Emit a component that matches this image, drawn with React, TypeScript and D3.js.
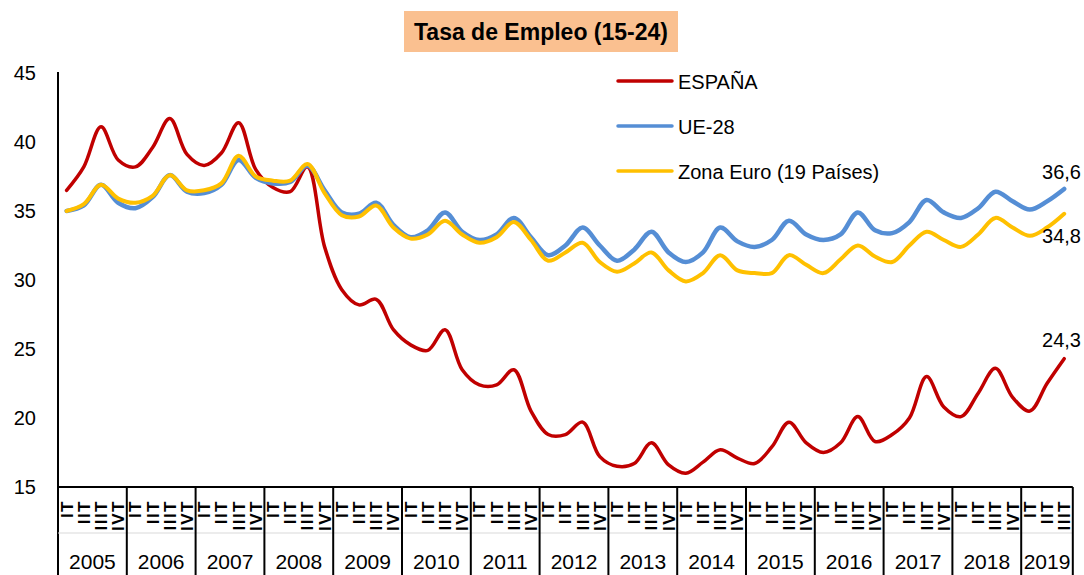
import React from "react";
import * as d3 from "d3";

const years = ["2005","2006","2007","2008","2009","2010","2011","2012","2013","2014","2015","2016","2017","2018","2019"];
const quarterLabels = ["IT", "IIT", "IIIT", "IVT"];
const yTicks = [15, 20, 25, 30, 35, 40, 45];

const espana = [
  36.5, 38.2, 41.1, 38.7,
  38.2, 39.6, 41.7, 39.1,
  38.3, 39.2, 41.4, 38.0,
  36.7, 36.4, 38.2, 32.4,
  29.3, 28.2, 28.6, 26.4,
  25.3, 24.9, 26.4, 23.5,
  22.4, 22.4, 23.5, 20.5,
  18.8, 18.8, 19.7, 17.2,
  16.5, 16.7, 18.2, 16.6,
  16.0, 16.8, 17.7, 17.1,
  16.7, 17.9, 19.7, 18.2,
  17.5, 18.2, 20.1, 18.3,
  18.8, 20.0, 23.0, 20.8,
  20.1, 21.8, 23.6, 21.5,
  20.5, 22.5, 24.3,
];
const ue28 = [
  35.0, 35.4, 36.9, 35.6,
  35.2, 36.0, 37.6, 36.4,
  36.3, 36.9, 38.7, 37.4,
  37.0, 37.1, 38.3, 36.5,
  34.9, 34.8, 35.6, 34.0,
  33.1, 33.6, 34.9, 33.5,
  32.9, 33.3, 34.5, 33.1,
  31.8, 32.5, 33.8, 32.5,
  31.4, 32.2, 33.5, 32.0,
  31.3, 32.0, 33.8, 32.8,
  32.4, 32.9, 34.3, 33.3,
  32.9, 33.3, 34.9, 33.6,
  33.4, 34.2, 35.8, 34.9,
  34.5, 35.2, 36.4, 35.7,
  35.1, 35.7, 36.6,
];
const zonaEuro = [
  35.0, 35.5, 36.9, 35.9,
  35.6, 36.1, 37.6, 36.5,
  36.5, 37.0, 39.0, 37.5,
  37.2, 37.2, 38.4, 36.3,
  34.7, 34.6, 35.4, 33.8,
  33.0, 33.3, 34.3, 33.3,
  32.7, 33.1, 34.2, 32.9,
  31.4, 32.0, 32.7, 31.3,
  30.6, 31.2, 32.0, 30.7,
  29.9, 30.5, 31.8, 30.7,
  30.5, 30.5, 31.8, 31.1,
  30.5, 31.5, 32.5, 31.7,
  31.3, 32.5, 33.5, 32.9,
  32.4, 33.3, 34.5, 33.8,
  33.2, 33.8, 34.8,
];

const seriesNames = ["ESPAÑA", "UE-28", "Zona Euro (19 Países)"];
const seriesColors = ["#C00000", "#558ED5", "#FFC000"];
const endLabels = ["24,3", "36,6", "34,8"];

const FONT = "'Liberation Sans', Arial, sans-serif";

export default function App() {
  const n = espana.length;
  const idx = d3.range(n);
  const left = 58;
  const qw = 68.8 / 4;
  const x = d3.scaleBand<number>().domain(idx).range([left, left + n * qw]).padding(0);
  const y = d3.scaleLinear().domain([15, 45]).range([487, 73]);
  const cx = (i: number) => (x(i) as number) + x.bandwidth() / 2;
  const line = d3
    .line<number>()
    .x((_, i) => cx(i))
    .y((d) => y(d))
    .curve(d3.curveCatmullRom.alpha(0.5));
  const data = [espana, ue28, zonaEuro];
  const widths = [3.5, 4.5, 4];
  const right = left + n * qw;
  const axisY = y(15);

  const yearBounds = years.map((yr, k) => {
    const start = k * 4;
    const end = Math.min(start + 4, n);
    return { yr, x0: x(start) as number, x1: (x(end - 1) as number) + x.bandwidth() };
  });

  const endLabelY = [347, 179, 243];

  return (
    <svg width={1084} height={575} style={{ position: "absolute", left: 0, top: 0 }} fontFamily={FONT}>
      <rect x={0} y={0} width={1084} height={575} fill="#fff" />
      {/* title */}
      <rect x={404} y={11} width={274} height={41} fill="#FAC090" />
      <text x={541} y={39.5} textAnchor="middle" fontSize={23} fontWeight="bold" fill="#000">
        Tasa de Empleo (15-24)
      </text>

      {/* y tick labels */}
      {yTicks.map((t) => (
        <text key={t} x={36} y={y(t) + 7} textAnchor="end" fontSize={20} fill="#000">
          {t}
        </text>
      ))}

      {/* lines */}
      {data.map((s, k) => (
        <path key={k} d={line(s) || ""} fill="none" stroke={seriesColors[k]} strokeWidth={widths[k]} strokeLinejoin="round" strokeLinecap="round" />
      ))}

      {/* end labels */}
      {data.map((s, k) => (
        <text key={k} x={1081} y={endLabelY[k]} textAnchor="end" fontSize={20} fill="#000">
          {endLabels[k]}
        </text>
      ))}

      {/* legend */}
      {seriesNames.map((nm, k) => {
        const ly = [81, 126, 171][k];
        return (
          <g key={nm}>
            <line x1={618} x2={672} y1={ly} y2={ly} stroke={seriesColors[k]} strokeWidth={3.5} strokeLinecap="round" />
            <text x={678} y={ly + 8} fontSize={20} fill="#000">{nm}</text>
          </g>
        );
      })}

      {/* axes */}
      <line x1={left} x2={left} y1={72} y2={575} stroke="#000" strokeWidth={2} />
      <line x1={left} x2={right} y1={axisY} y2={axisY} stroke="#000" strokeWidth={2} />
      <line x1={left} x2={right} y1={533} y2={533} stroke="#d9d9d9" strokeWidth={1} />
      {yearBounds.map((b) => (
        <g key={b.yr}>
          <line x1={b.x1} x2={b.x1} y1={axisY} y2={575} stroke="#000" strokeWidth={2} />
          <text x={(b.x0 + b.x1) / 2} y={569} textAnchor="middle" fontSize={21} fill="#000">
            {b.yr}
          </text>
        </g>
      ))}
      {idx.map((i) => (
        <text
          key={i}
          transform={`translate(${cx(i) + 6},${axisY + 13}) rotate(-90)`}
          textAnchor="end"
          fontSize={17}
          letterSpacing={1.5}
          fontWeight="bold"
          fill="#000"
        >
          {quarterLabels[i % 4]}
        </text>
      ))}
    </svg>
  );
}
